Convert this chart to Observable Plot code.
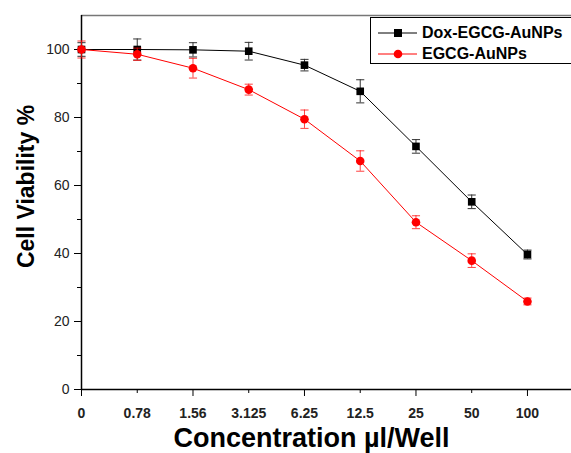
<!DOCTYPE html>
<html>
<head>
<meta charset="utf-8">
<script src="https://cdn.jsdelivr.net/npm/d3@7"></script>
<script src="https://cdn.jsdelivr.net/npm/@observablehq/plot@0.6"></script>
<style>
  html, body { margin: 0; padding: 0; background: #fff; overflow: hidden; }
  #wrap { position: relative; width: 571px; height: 453px; font-family: "Liberation Sans", Arial, sans-serif; }
  #legend { position: absolute; left: 370px; top: 17px; width: 230px; height: 47px; border: 1.5px solid #000; background: #fff; box-sizing: border-box; }
  .row { position: absolute; left: 7px; height: 20px; display: flex; align-items: center; font-weight: bold; font-size: 16px; color: #000; white-space: nowrap; }
  .row svg { margin-right: 4px; }
</style>
</head>
<body>
<div id="wrap"></div>
<script>
const categories = ["0", "0.78", "1.56", "3.125", "6.25", "12.5", "25", "50", "100"];
const doxValues  = [100, 100, 99.9, 99.5, 95.4, 87.7, 71.5, 55.2, 39.7];
const doxErrors  = [2.0, 3.1, 2.1, 2.6, 1.7, 3.4, 2.0, 2.0, 1.3];
const egcgValues = [100, 98.6, 94.5, 88.2, 79.5, 67.2, 49.2, 37.9, 25.9];
const egcgErrors = [2.5, 1.8, 2.9, 1.6, 2.7, 3.0, 1.9, 2.0, 1.0];
const seriesNames = ["Dox-EGCG-AuNPs", "EGCG-AuNPs"];
const yMajor = [0, 20, 40, 60, 80, 100];
const yMinor = [10, 30, 50, 70, 90];

const idx = categories.map((_, i) => i);
const dox = idx.map(i => ({i, v: doxValues[i], e: doxErrors[i]}));
const egcg = idx.map(i => ({i, v: egcgValues[i], e: egcgErrors[i]}));

const cap = {draw(ctx, size) { const w = Math.sqrt(size); ctx.moveTo(-w, 0); ctx.lineTo(w, 0); }};

function seriesMarks(data, color, symbol, barColor) {
  return [
    Plot.line(data, {x: "i", y: "v", stroke: color, strokeWidth: 1}),
    Plot.ruleX(data, {x: "i", y1: d => d.v - d.e, y2: d => d.v + d.e, stroke: barColor, strokeWidth: 1}),
    Plot.dot(data, {x: "i", y: d => d.v + d.e, symbol: cap, r: 2.3, stroke: barColor, strokeWidth: 1, fill: "none"}),
    Plot.dot(data, {x: "i", y: d => d.v - d.e, symbol: cap, r: 2.3, stroke: barColor, strokeWidth: 1, fill: "none"}),
    Plot.dot(data, {x: "i", y: "v", symbol, r: 4.3, fill: color, stroke: "none"})
  ];
}

const chart = Plot.plot({
  width: 571,
  height: 453,
  marginLeft: 81,
  marginRight: 0,
  marginTop: 15,
  marginBottom: 64,
  style: {fontFamily: '"Liberation Sans", Arial, sans-serif', background: "#fff", color: "#222"},
  x: {type: "linear", domain: [0, 8.79]},
  y: {domain: [0, 110]},
  marks: [
    Plot.ruleY([110], {stroke: "#777", strokeWidth: 1.5}),
    Plot.axisY({ticks: yMajor, tickSize: 7, tickPadding: 5, fontSize: 14, label: null, stroke: "#000"}),
    Plot.axisY({ticks: yMinor, tickSize: 4, tickFormat: () => "", label: null, stroke: "#000"}),
    Plot.axisX({ticks: idx.filter(i => i % 2 === 0), tickSize: 7, tickFormat: () => "", label: null, stroke: "#000"}),
    Plot.axisX({ticks: idx.filter(i => i % 2 === 1), tickSize: 4, tickFormat: () => "", label: null, stroke: "#000"}),
    Plot.axisX({ticks: idx, tickSize: 0, tickPadding: 19, tickFormat: i => categories[i], fontSize: 14, fontWeight: "bold", label: null}),
    Plot.ruleX([0], {stroke: "#000", strokeWidth: 1.5}),
    Plot.ruleY([0], {stroke: "#000", strokeWidth: 1.5}),
    ...seriesMarks(dox, "#000", "square", "#333"),
    ...seriesMarks(egcg, "#ff0000", "circle", "rgba(255,0,0,0.75)"),
    Plot.text(["Concentration µl/Well"], {frameAnchor: "bottom", dx: -15, dy: 57, fontSize: 27, fontWeight: "bold", fill: "#000"}),
    Plot.text(["Cell Viability %"], {frameAnchor: "left", textAnchor: "middle", rotate: -90, dx: -55, dy: -16, fontSize: 23, fontWeight: "bold", fill: "#000"})
  ]
});

const wrap = document.getElementById("wrap");
wrap.appendChild(chart);

const legend = document.createElement("div");
legend.id = "legend";
const specs = [
  {name: seriesNames[0], color: "#000", shape: "square"},
  {name: seriesNames[1], color: "#ff0000", shape: "circle"}
];
specs.forEach((s, k) => {
  const row = document.createElement("div");
  row.className = "row";
  row.style.top = (k === 0 ? 5 : 26) + "px";
  const sw = s.shape === "square"
    ? `<rect x="16" y="6" width="8" height="8" fill="${s.color}"/>`
    : `<circle cx="20" cy="10" r="4.3" fill="${s.color}"/>`;
  row.innerHTML = `<svg width="40" height="20"><line x1="0" x2="39" y1="10" y2="10" stroke="${s.color}" stroke-width="1"/>${sw}</svg><span>${s.name}</span>`;
  legend.appendChild(row);
});
wrap.appendChild(legend);
</script>
</body>
</html>
